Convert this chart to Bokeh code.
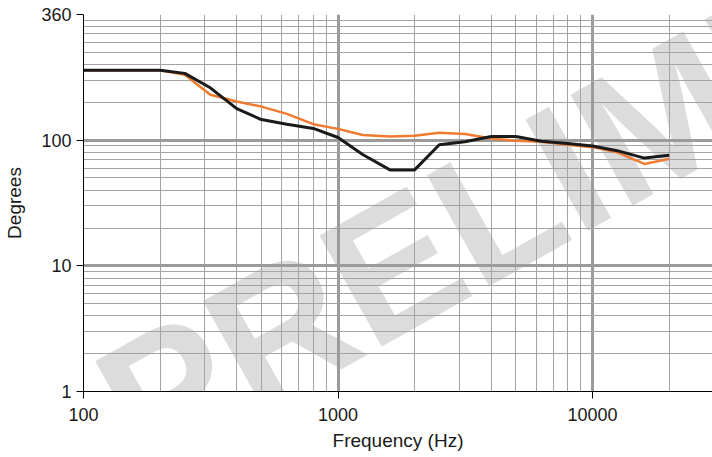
import math
from bokeh.plotting import figure
from bokeh.models import FixedTicker, CustomJSTickFormatter, Label
from bokeh.embed import file_html
from bokeh.resources import INLINE

# ---- data ----
freq_hz = [100, 125, 160, 200, 250, 315, 400, 500, 630, 800, 1000, 1250, 1600,
           2000, 2500, 3150, 4000, 5000, 6300, 8000, 10000, 12500, 16000, 20000]
orange_deg = [360, 360, 360, 360, 332, 230, 203, 185, 162, 134, 123, 110, 107,
              108.6, 114.7, 112, 103, 99, 97, 92, 88, 80, 64.7, 71]
black_deg = [360, 360, 360, 360, 340, 261, 178, 146, 134, 124, 105, 77, 58,
             58, 92, 97, 107, 107, 98, 94, 90, 82.5, 72, 76]

x_ticks = [100, 1000, 10000]
x_tick_labels = ["100", "1000", "10000"]
x_minor = [200, 300, 400, 500, 600, 700, 800, 900,
           2000, 3000, 4000, 5000, 6000, 7000, 8000, 9000, 20000, 30000]
y_ticks = [1, 10, 100, 1000]
y_tick_labels = ["1", "10", "100", "360"]
y_minor = [2, 3, 4, 5, 6, 7, 8, 9, 20, 30, 40, 50, 60, 70, 80, 90,
           200, 300, 400, 500, 600, 700, 800, 900]

# ---- layout ----
W, H = 712, 457
BL, BR, BT, BB = 83, 0, 14, 66
FW, FH = W - BL - BR, H - BT - BB
X_START = 100
X_END = 10 ** (2 + FW / 254.5)
Y_START, Y_END = 1, 1000


def x_at(px):
    # canvas pixel -> data x (annotation placement only)
    return 10 ** (math.log10(X_START) + (px - BL) / FW * (math.log10(X_END) - math.log10(X_START)))


def y_at(py):
    bottom = BT + FH
    return 10 ** (math.log10(Y_START) + (bottom - py) / FH * (math.log10(Y_END) - math.log10(Y_START)))


p = figure(width=W, height=H, x_axis_type="log", y_axis_type="log",
           x_range=(X_START, X_END), y_range=(Y_START, Y_END),
           output_backend="svg", toolbar_location=None,
           min_border_left=BL, min_border_right=BR,
           min_border_top=BT, min_border_bottom=BB)
p.outline_line_color = None
p.background_fill_color = "white"
p.border_fill_color = "white"

xt = FixedTicker(ticks=x_ticks, minor_ticks=x_minor)
yt = FixedTicker(ticks=y_ticks, minor_ticks=y_minor)
p.xaxis[0].ticker = xt
p.yaxis[0].ticker = yt
p.xgrid[0].ticker = xt
p.ygrid[0].ticker = yt

fmt_code = """
for (let i = 0; i < vals.length; i++) {
  if (Math.abs(vals[i] - tick) < 1e-6 * vals[i]) return labs[i];
}
return '';
"""
p.xaxis[0].formatter = CustomJSTickFormatter(args=dict(vals=x_ticks, labs=x_tick_labels), code=fmt_code)
p.yaxis[0].formatter = CustomJSTickFormatter(args=dict(vals=y_ticks, labs=y_tick_labels), code=fmt_code)

for ax in (p.xaxis[0], p.yaxis[0]):
    ax.axis_line_color = "black"
    ax.axis_line_width = 1
    ax.major_tick_line_color = "black"
    ax.major_tick_line_width = 1
    ax.major_tick_out = 7
    ax.major_tick_in = 0
    ax.minor_tick_out = 0
    ax.minor_tick_in = 0
    ax.minor_tick_line_color = None
    ax.major_label_text_font = "Liberation Sans"
    ax.major_label_text_font_size = "18px"
    ax.major_label_text_color = "#1a1a1a"
    ax.axis_label_text_font = "Liberation Sans"
    ax.axis_label_text_font_size = "19px"
    ax.axis_label_text_font_style = "normal"
    ax.axis_label_text_color = "#1a1a1a"
p.xaxis[0].major_label_standoff = 9
p.yaxis[0].major_label_standoff = 5
p.xaxis[0].axis_label = "Frequency (Hz)"
p.yaxis[0].axis_label = "Degrees"
p.xaxis[0].axis_label_standoff = 6
p.yaxis[0].axis_label_standoff = 13

for g in (p.xgrid[0], p.ygrid[0]):
    g.grid_line_color = "#9b9b9b"
    g.grid_line_width = 3
    g.minor_grid_line_color = "#a3a3a3"
    g.minor_grid_line_width = 1

# watermark
p.add_layout(Label(x=x_at(115), y=y_at(422), text="PRELIMINARY",
                   angle=29.3, angle_units="deg",
                   text_font="Liberation Sans", text_font_size="185px",
                   text_font_style="bold", text_color="#dcdcdc",
                   text_baseline="alphabetic", text_align="left",
                   level="image"))

p.line(freq_hz, orange_deg, line_color="#ef7b31", line_width=2.5)
p.line(freq_hz, black_deg, line_color="#1a1a1a", line_width=3)

open("out.html", "w").write(file_html(p, INLINE))
